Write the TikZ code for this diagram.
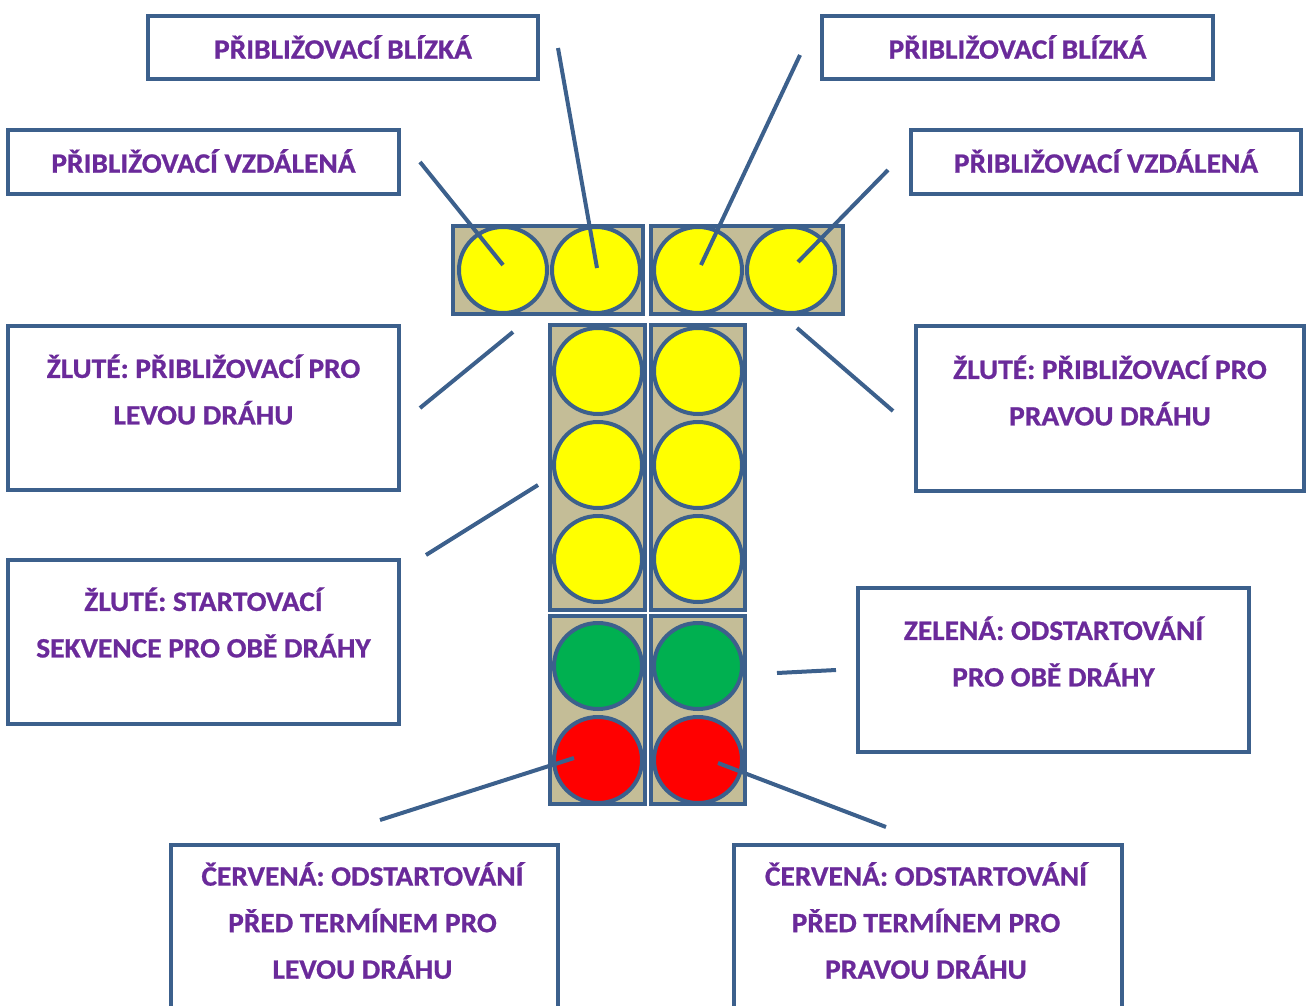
\documentclass[tikz,border=0pt]{standalone}
\usetikzlibrary{shapes.geometric}
\usepackage{fontspec}
\setmainfont{Carlito}
\newfontfamily\lblfont[FakeStretch=1.05,FakeBold=0.8]{Carlito Bold}
\definecolor{frame}{RGB}{60,96,140}
\definecolor{txt}{RGB}{106,42,154}
\definecolor{house}{RGB}{196,189,151}
\definecolor{lyel}{RGB}{255,255,0}
\definecolor{lgrn}{RGB}{0,176,80}
\definecolor{lred}{RGB}{255,0,0}
\begin{document}
\begin{tikzpicture}[x=0.75pt,y=-0.75pt,
  boxst/.style={draw=frame,line width=3pt,fill=white,rectangle,inner sep=0pt},
  lbl/.style={text=txt,font=\lblfont\fontsize{21}{34.9}\selectfont,align=center,inner sep=0pt},
  housing/.style={draw=frame,line width=3pt,fill=house},
  lamp/.style={draw=frame,line width=3pt,ellipse,minimum width=88*0.75pt,minimum height=86*0.75pt,inner sep=0pt},
  conn/.style={draw=frame,line width=3pt}]
\useasboundingbox (0,0) rectangle (1306,1006);
% boxes
\node[boxst,minimum width=390*0.75pt,minimum height=63*0.75pt] (b1) at (343,47.5) {};
\node[lbl] (t1) at (343,47) {PŘIBLIŽOVACÍ BLÍZKÁ};
\node[boxst,minimum width=391*0.75pt,minimum height=64*0.75pt] (b2) at (203.5,162) {};
\node[lbl] (t2) at (203.5,161) {PŘIBLIŽOVACÍ VZDÁLENÁ};
\node[boxst,minimum width=391*0.75pt,minimum height=63*0.75pt] (b3) at (1017.5,47.5) {};
\node[lbl] (t3) at (1017.5,47) {PŘIBLIŽOVACÍ BLÍZKÁ};
\node[boxst,minimum width=390*0.75pt,minimum height=64*0.75pt] (b4) at (1106,162) {};
\node[lbl] (t4) at (1106,161) {PŘIBLIŽOVACÍ VZDÁLENÁ};
\node[boxst,minimum width=391*0.75pt,minimum height=164*0.75pt] (b5) at (203.5,408) {};
\node[lbl] (t5) at (203.5,389.5) {ŽLUTÉ: PŘIBLIŽOVACÍ PRO\\LEVOU DRÁHU};
\node[boxst,minimum width=388*0.75pt,minimum height=165*0.75pt] (b6) at (1110,408.5) {};
\node[lbl] (t6) at (1110,390.5) {ŽLUTÉ: PŘIBLIŽOVACÍ PRO\\PRAVOU DRÁHU};
\node[boxst,minimum width=391*0.75pt,minimum height=164*0.75pt] (b7) at (203.5,642) {};
\node[lbl] (t7) at (203.5,622.5) {ŽLUTÉ: STARTOVACÍ\\SEKVENCE PRO OBĚ DRÁHY};
\node[boxst,minimum width=391*0.75pt,minimum height=164*0.75pt] (b8) at (1053.5,670) {};
\node[lbl] (t8) at (1053.5,651.5) {ZELENÁ: ODSTARTOVÁNÍ\\PRO OBĚ DRÁHY};
\node[boxst,minimum width=387*0.75pt,minimum height=180*0.75pt,anchor=north west] (b9) at (169,843) {};
\node[lbl] (t9) at (362.5,920.5) {ČERVENÁ: ODSTARTOVÁNÍ\\PŘED TERMÍNEM PRO\\LEVOU DRÁHU};
\node[boxst,minimum width=388*0.75pt,minimum height=180*0.75pt,anchor=north west] (b10) at (732,843) {};
\node[lbl] (t10) at (926,920.5) {ČERVENÁ: ODSTARTOVÁNÍ\\PŘED TERMÍNEM PRO\\PRAVOU DRÁHU};
% housings
\draw[housing] (453,226) rectangle (643,314);
\draw[housing] (651,226) rectangle (843,314);
\draw[housing] (550,325) rectangle (645,610);
\draw[housing] (651,325) rectangle (745,610);
\draw[housing] (550,616) rectangle (645,804);
\draw[housing] (651,616) rectangle (745,804);
% lamps
\node[lamp,fill=lyel] (l1) at (503,270) {};
\node[lamp,fill=lyel] (l2) at (596,270) {};
\node[lamp,fill=lyel] (l3) at (698,270) {};
\node[lamp,fill=lyel] (l4) at (791,270) {};
\node[lamp,fill=lyel] (a1) at (598,371) {};
\node[lamp,fill=lyel] (a2) at (598,465) {};
\node[lamp,fill=lyel] (a3) at (598,559) {};
\node[lamp,fill=lgrn] (a4) at (598,666) {};
\node[lamp,fill=lred] (a5) at (598,760) {};
\node[lamp,fill=lyel] (c1) at (698,371) {};
\node[lamp,fill=lyel] (c2) at (698,465) {};
\node[lamp,fill=lyel] (c3) at (698,559) {};
\node[lamp,fill=lgrn] (c4) at (698,666) {};
\node[lamp,fill=lred] (c5) at (698,760) {};
% connector ends
\coordinate (e1a) at (420,162); \coordinate (e1b) at (503,265);
\coordinate (e2a) at (558,48);  \coordinate (e2b) at (597,268);
\coordinate (e3a) at (800,55);  \coordinate (e3b) at (701,265);
\coordinate (e4a) at (888,170); \coordinate (e4b) at (798,262);
\coordinate (e5a) at (420,408); \coordinate (e5b) at (513,332);
\coordinate (e6a) at (893,411); \coordinate (e6b) at (797,328);
\coordinate (e7a) at (426,555); \coordinate (e7b) at (538,485);
\coordinate (e8a) at (836,670); \coordinate (e8b) at (777,673);
\coordinate (e9a) at (380,820); \coordinate (e9b) at (574,758);
\coordinate (e10a) at (886,827); \coordinate (e10b) at (718,763);
\draw[conn] (e1a) -- (e1b);
\draw[conn] (e2a) -- (e2b);
\draw[conn] (e3a) -- (e3b);
\draw[conn] (e4a) -- (e4b);
\draw[conn] (e5a) -- (e5b);
\draw[conn] (e6a) -- (e6b);
\draw[conn] (e7a) -- (e7b);
\draw[conn] (e8a) -- (e8b);
\draw[conn] (e9a) -- (e9b);
\draw[conn] (e10a) -- (e10b);
\end{tikzpicture}
\end{document}
